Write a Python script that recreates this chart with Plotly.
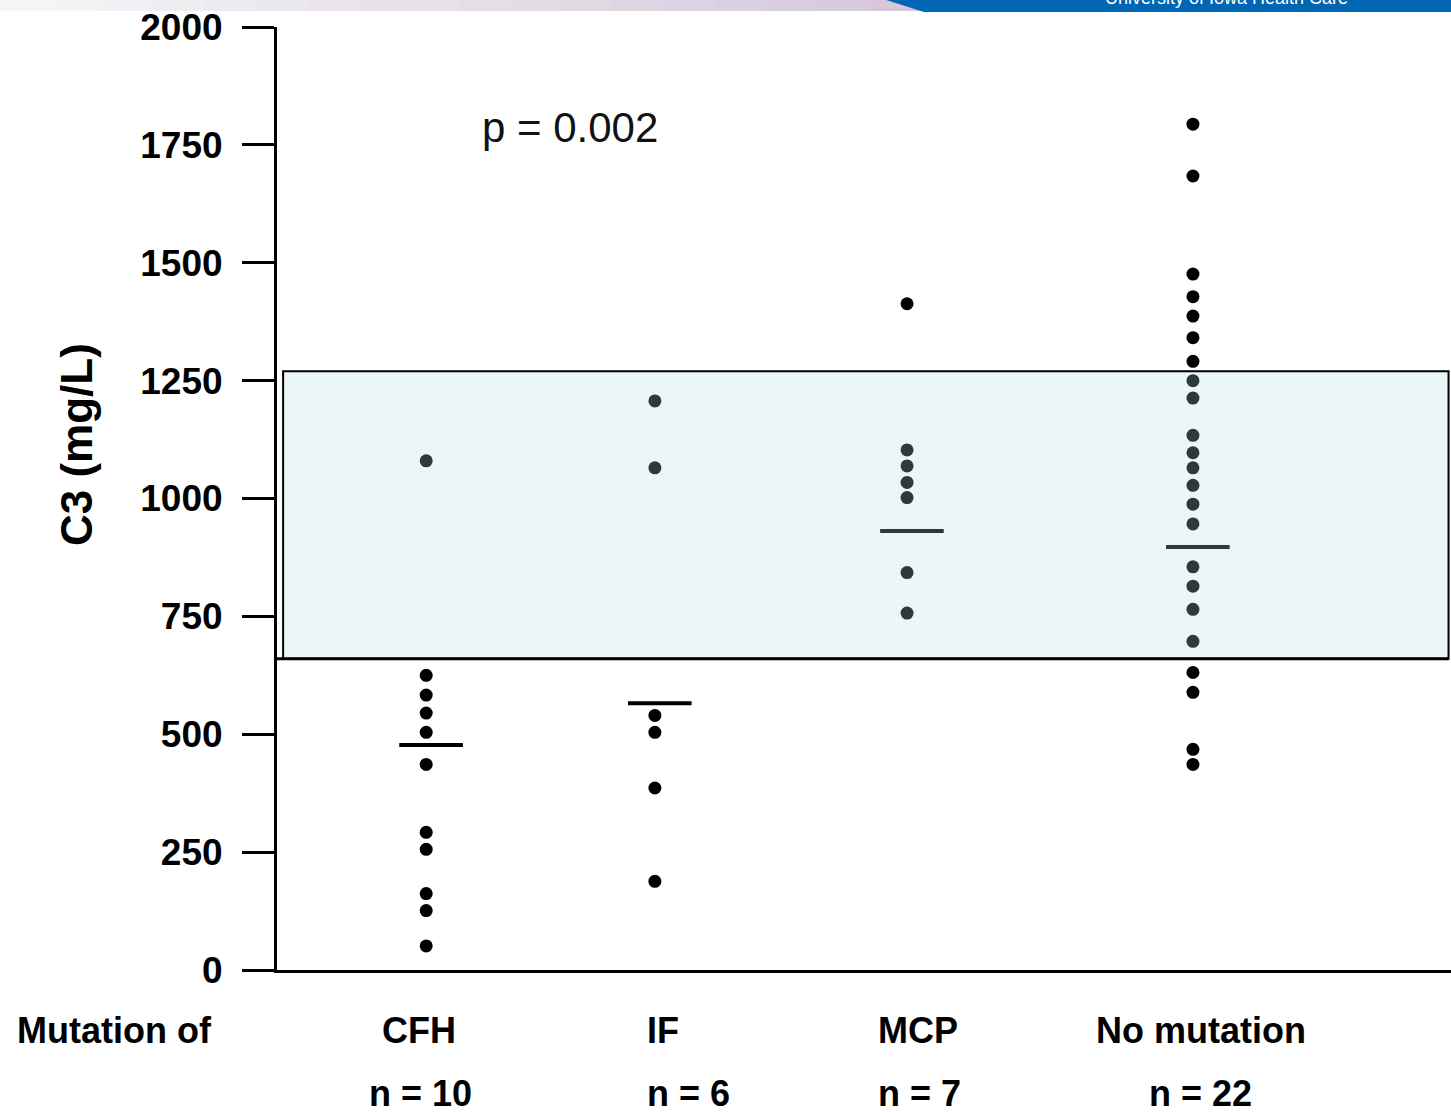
import plotly.graph_objects as go

# ---------------- data ----------------
groups = ["CFH", "IF", "MCP", "No mutation"]
group_n = ["n = 10", "n = 6", "n = 7", "n = 22"]
cfh_vals = [1080, 625, 583, 545, 504, 436, 292, 256, 162, 126, 51]
if_vals = [1207, 1065, 540, 504, 386, 188]
mcp_vals = [1413, 1103, 1069, 1034, 1002, 843, 757]
nomut_vals = [1794, 1684, 1476, 1428, 1387, 1341, 1291, 1250, 1213, 1134, 1097,
              1065, 1028, 988, 946, 855, 814, 765, 697, 631, 589, 468, 436]
group_means = [477, 566, 931, 897]
normal_range = [660, 1270]
y_ticks = [0, 250, 500, 750, 1000, 1250, 1500, 1750, 2000]
p_label = "p = 0.002"
y_title = "C3 (mg/L)"
x_title = "Mutation of"
banner_text = "University of Iowa Health Care"

# ---------------- layout config ----------------
W, H = 1451, 1112
L, R, T, B = 277, 0, 27, 142
group_x = [0.61, 1.545, 2.576, 3.745]   # category placement along x
x_range = [0, 4.8]
mean_half = 0.13

def px_x(px):
    return (px - L) / (W - L - R)

def px_y(py):
    return (H - B - py) / (H - B - T)

series = [cfh_vals, if_vals, mcp_vals, nomut_vals]

fig = go.Figure()
for gx, vals in zip(group_x, series):
    fig.add_trace(go.Scatter(
        x=[gx] * len(vals), y=vals, mode="markers",
        marker=dict(size=13, color="black"),
        showlegend=False, hoverinfo="skip"))
for gx, m in zip(group_x, group_means):
    fig.add_trace(go.Scatter(
        x=[gx - mean_half + 0.02, gx + mean_half + 0.02], y=[m, m], mode="lines",
        line=dict(color="black", width=4),
        showlegend=False, hoverinfo="skip"))

shapes = []
# normal range band
shapes.append(dict(type="rect", xref="x", yref="y",
                   x0=0.025, x1=4.79, y0=normal_range[0], y1=normal_range[1],
                   fillcolor="rgba(179,220,232,0.26)",
                   line=dict(color="black", width=2), layer="above"))
shapes.append(dict(type="line", xref="x", yref="y",
                   x0=0, x1=4.79, y0=normal_range[0], y1=normal_range[0],
                   line=dict(color="black", width=3), layer="above"))

# banner decoration at the top
n_steps = 18
for i in range(n_steps):
    t = i / (n_steps - 1)
    r = int(246 + (214 - 246) * t)
    g = int(246 + (200 - 246) * t)
    b = int(248 + (218 - 248) * t)
    shapes.append(dict(type="rect", xref="paper", yref="paper",
                       x0=px_x(i * 920 / n_steps), x1=px_x((i + 1) * 920 / n_steps + 1),
                       y0=px_y(11), y1=px_y(-2),
                       fillcolor=f"rgb({r},{g},{b})", line=dict(width=0), layer="below"))
x0p, x1p = px_x(880), px_x(924)
shapes.append(dict(type="path", xref="paper", yref="paper",
                   path=f"M {x0p} {px_y(-2)} L {px_x(1460)} {px_y(-2)} L {px_x(1460)} {px_y(12)} L {x1p} {px_y(12)} Z",
                   fillcolor="#0066b3", line=dict(width=0), layer="below"))

bold = dict(family="Liberation Sans", size=37, color="black", weight="bold")
label_font = dict(family="Liberation Sans", size=36, color="black", weight="bold")

annotations = []
annotations.append(dict(text=banner_text, xref="paper", yref="paper",
                        x=px_x(1226), y=px_y(10), xanchor="center", yanchor="bottom",
                        showarrow=False,
                        font=dict(family="Liberation Sans", size=18, color="white")))
annotations.append(dict(text=p_label, xref="paper", yref="paper",
                        x=px_x(570), y=px_y(128), xanchor="center", yanchor="middle",
                        showarrow=False,
                        font=dict(family="Liberation Sans", size=42, color="#111111")))
annotations.append(dict(text=y_title, xref="paper", yref="paper",
                        x=px_x(77), y=px_y(445), xanchor="center", yanchor="middle",
                        textangle=-90, showarrow=False,
                        font=dict(family="Liberation Sans", size=44, color="black", weight="bold")))
annotations.append(dict(text=x_title, xref="paper", yref="paper",
                        x=px_x(114), y=px_y(1030), xanchor="center", yanchor="middle",
                        showarrow=False, font=label_font))
label_px = [419, 663, 918, 1201]
n_px = [420, 688, 919, 1200]
for g, n, lx, nx in zip(groups, group_n, label_px, n_px):
    annotations.append(dict(text=g, xref="paper", yref="paper",
                            x=px_x(lx), y=px_y(1030), xanchor="center", yanchor="middle",
                            showarrow=False, font=label_font))
    annotations.append(dict(text=n, xref="paper", yref="paper",
                            x=px_x(nx), y=px_y(1093), xanchor="center", yanchor="middle",
                            showarrow=False, font=label_font))

fig.update_layout(
    width=W, height=H,
    margin=dict(l=L, r=R, t=T, b=B, pad=0),
    paper_bgcolor="white", plot_bgcolor="white",
    shapes=shapes, annotations=annotations,
    xaxis=dict(range=x_range, showline=True, linecolor="black", linewidth=3,
               showgrid=False, zeroline=False, showticklabels=False, ticks=""),
    yaxis=dict(range=[0, 2000], tickvals=y_ticks, ticks="outside", ticklen=32,
               tickwidth=3, tickcolor="black", showline=True, linecolor="black",
               linewidth=3, showgrid=False, zeroline=False, tickfont=bold,
               ticklabelstandoff=12),
)

fig.write_html("out.html")
